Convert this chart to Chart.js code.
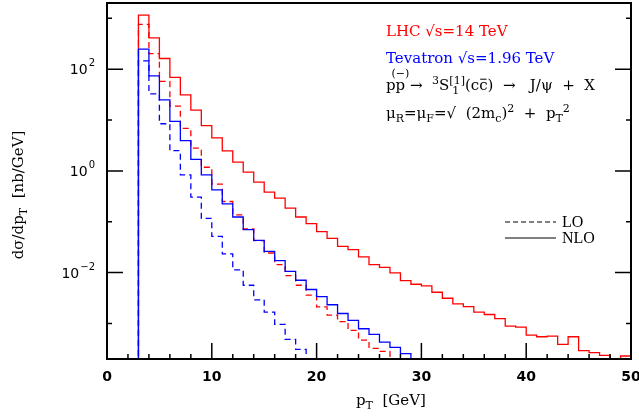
<!DOCTYPE html>
<html>
<head>
<meta charset="utf-8">
<script src="https://cdn.jsdelivr.net/npm/chart.js@4.4.0/dist/chart.umd.min.js"></script>
<style>
  html, body { margin: 0; padding: 0; background: #fff; }
  #wrap { width: 639px; height: 417px; }
</style>
</head>
<body>
<div id="wrap"><canvas id="xsec" width="639" height="417"></canvas></div>
<script>
// histogram bins are 1 GeV wide, first bin starts at pT = 3 GeV
const binStart = 3;

// LHC sqrt(s)=14 TeV
const lhcNLO = [1150, 411, 162, 68.7, 31.2, 15.7, 7.73, 4.44, 2.47, 1.48, 0.944, 0.600, 0.382, 0.292, 0.186,
  0.124, 0.0914, 0.0637, 0.0471, 0.0328, 0.0283, 0.0203, 0.0144, 0.0127, 0.00986, 0.00697, 0.0059, 0.00548,
  0.00411, 0.00313, 0.00243, 0.00215, 0.00167, 0.0015, 0.00124, 0.000885, 0.000846, 0.00059, 0.000548,
  0.000564, 0.000388, 0.000548, 0.000292, 0.000266, 0.000236, 0.0002, 0.000229];
const lhcLO = [762, 203, 57.4, 18.8, 6.87, 2.79, 1.18, 0.548, 0.25, 0.137, 0.0719, 0.0424, 0.0243, 0.0144,
  0.00873, 0.00564, 0.00359, 0.00212, 0.00146, 0.00109, 0.00073, 0.000471, 0.000324, 0.000283];

// Tevatron sqrt(s)=1.96 TeV
const tevNLO = [247, 73.9, 25, 9.44, 3.93, 1.69, 0.836, 0.424, 0.225, 0.124, 0.0697, 0.043, 0.0262, 0.0172,
  0.0106, 0.00707, 0.00465, 0.00338, 0.00233, 0.00157, 0.00115, 0.000787, 0.000608, 0.000431, 0.000338, 0.000255];
const tevLO = [146, 32.8, 8.45, 2.5, 0.836, 0.305, 0.116, 0.0515, 0.0233, 0.0113, 0.00564, 0.00292, 0.00167,
  0.000955, 0.000486, 0.000309];

const xTickLabels = [0, 10, 20, 30, 40, 50];
const yTickLabels = [2, 0, -2];   // exponents of the labelled decades

const yMin = 2e-4, yMax = 2e3;
const serif = '"DejaVu Serif", serif';

// turn bin contents into a step outline that drops to the floor at both ends
function stepPoints(vals) {
    const pts = [{ x: binStart, y: 1e-6 }];
    vals.forEach((v, i) => pts.push({ x: binStart + i, y: v }));
    pts.push({ x: binStart + vals.length, y: 1e-6 });
    return pts;
}

function histo(label, vals, color, dashed) {
    return {
        label: label,
        data: stepPoints(vals),
        borderColor: color,
        borderWidth: 1.3,
        borderDash: dashed ? [6, 4] : [],
        stepped: 'before',
        pointRadius: 0,
        fill: false
    };
}

// small rich text helper: parts = {t, k:'sup'|'sub', stack:offset, over:text, bar:true}
function richText(ctx, x, y, parts, size, color, draw, face) {
    const fam = face || serif;
    let cx = x, lastX = x;
    ctx.fillStyle = color;
    ctx.strokeStyle = color;
    ctx.textAlign = 'left';
    ctx.textBaseline = 'alphabetic';
    parts.forEach(p => {
        const k = p.k || 'n';
        const fs = k === 'n' ? size : Math.round(size * 0.7);
        const dy = k === 'sup' ? -size * 0.42 : (k === 'sub' ? size * 0.28 : 0);
        ctx.font = fs + 'px ' + fam;
        const w = ctx.measureText(p.t).width;
        const sx = p.stack !== undefined ? lastX + p.stack : cx;
        if (draw) {
            ctx.fillText(p.t, sx, y + dy);
            if (p.over) {
                ctx.font = Math.round(size * 0.7) + 'px ' + fam;
                const ow = ctx.measureText(p.over).width;
                ctx.fillText(p.over, sx + w / 2 - ow / 2, y - size * 0.85);
            }
            if (p.bar) {
                ctx.lineWidth = 1;
                ctx.beginPath();
                ctx.moveTo(sx + 1, y - size * 0.72);
                ctx.lineTo(sx + w - 1, y - size * 0.72);
                ctx.stroke();
            }
        }
        if (p.stack === undefined) {
            lastX = cx;
            cx += w;
        }
    });
    return cx - x;
}

const framePlugin = {
    id: 'frame',
    afterDraw(chart) {
        const ctx = chart.ctx;
        const a = chart.chartArea;
        const xs = chart.scales.x, ys = chart.scales.y;
        ctx.save();

        // box
        ctx.strokeStyle = '#000';
        ctx.lineWidth = 2;
        ctx.strokeRect(a.left, a.top, a.right - a.left, a.bottom - a.top);

        // x ticks (bottom only), major every 10, minor every 2
        ctx.lineWidth = 1.5;
        ctx.beginPath();
        for (let v = 0; v <= 50; v += 2) {
            const px = xs.getPixelForValue(v);
            const len = v % 10 === 0 ? 16 : 5;
            ctx.moveTo(px, a.bottom);
            ctx.lineTo(px, a.bottom - len);
        }
        // y ticks on both sides, major on even decades
        for (let e = -3; e <= 3; e++) {
            const py = ys.getPixelForValue(Math.pow(10, e));
            const len = e % 2 === 0 ? 16 : 5;
            ctx.moveTo(a.left, py);
            ctx.lineTo(a.left + len, py);
            ctx.moveTo(a.right, py);
            ctx.lineTo(a.right - len, py);
        }
        ctx.stroke();

        // x tick labels
        ctx.fillStyle = '#000';
        ctx.font = 'bold 14px "DejaVu Sans", sans-serif';
        ctx.textAlign = 'center';
        ctx.textBaseline = 'alphabetic';
        xTickLabels.forEach(v => ctx.fillText(String(v), xs.getPixelForValue(v), 381));

        // y tick labels 10^n
        yTickLabels.forEach(e => {
            const py = ys.getPixelForValue(Math.pow(10, e));
            ctx.font = '10px "DejaVu Sans", sans-serif';
            const sup = e < 0 ? '\u2212' + (-e) : String(e);
            const sw = ctx.measureText(sup).width;
            ctx.textAlign = 'right';
            ctx.fillText(sup, 95, py - 3);
            ctx.font = '14px "DejaVu Sans", sans-serif';
            ctx.fillText('10', 95 - sw - 1, py + 5);
        });

        // axis titles
        const xt = [{ t: 'p' }, { t: 'T', k: 'sub' }, { t: '  [GeV]' }];
        richText(ctx, 356, 405, xt, 15, '#000', true);

        const yt = [{ t: 'd\u03c3/dp' }, { t: 'T', k: 'sub' }, { t: '  [nb/GeV]' }];
        const yw = richText(ctx, 0, 0, yt, 15, '#000', false);
        ctx.save();
        ctx.translate(23, 195);
        ctx.rotate(-Math.PI / 2);
        richText(ctx, -yw / 2, 0, yt, 15, '#000', true);
        ctx.restore();

        // annotations
        richText(ctx, 386, 36, [{ t: 'LHC \u221as=14 TeV' }], 15, '#ff0000', true);
        richText(ctx, 386, 63, [{ t: 'Tevatron \u221as=1.96 TeV' }], 15, '#0000ff', true);
        richText(ctx, 386, 90, [
            { t: 'p' }, { t: 'p', over: '(\u2212)' }, { t: ' \u2192  ' },
            { t: '3', k: 'sup' }, { t: 'S' }, { t: '[1]', k: 'sup' }, { t: '1', k: 'sub', stack: 3 },
            { t: '(c' }, { t: 'c', bar: true }, { t: ')  \u2192   J/\u03c8  +  X' }
        ], 15, '#000', true);
        richText(ctx, 386, 118, [
            { t: '\u03bc' }, { t: 'R', k: 'sub' }, { t: '=\u03bc' }, { t: 'F', k: 'sub' },
            { t: '=\u221a  (2m' }, { t: 'c', k: 'sub' }, { t: ')' }, { t: '2', k: 'sup' },
            { t: '  +  p' }, { t: 'T', k: 'sub' }, { t: '2', k: 'sup' }
        ], 15, '#000', true);

        // line style key
        ctx.strokeStyle = '#000';
        ctx.lineWidth = 1;
        ctx.setLineDash([5, 3]);
        ctx.beginPath();
        ctx.moveTo(505, 222);
        ctx.lineTo(556, 222);
        ctx.stroke();
        ctx.setLineDash([]);
        ctx.beginPath();
        ctx.moveTo(505, 238);
        ctx.lineTo(556, 238);
        ctx.stroke();
        const times = '"Liberation Serif", serif';
        richText(ctx, 562, 227, [{ t: 'LO' }], 16, '#000', true, times);
        richText(ctx, 562, 243, [{ t: 'NLO' }], 16, '#000', true, times);

        ctx.restore();
    }
};

new Chart(document.getElementById('xsec').getContext('2d'), {
    type: 'line',
    data: {
        datasets: [
            histo('Tevatron LO', tevLO, '#0000ff', true),
            histo('Tevatron NLO', tevNLO, '#0000ff', false),
            histo('LHC LO', lhcLO, '#ff0000', true),
            histo('LHC NLO', lhcNLO, '#ff0000', false)
        ]
    },
    options: {
        responsive: false,
        animation: false,
        events: [],
        layout: { padding: { left: 0, top: 3, right: 8, bottom: 0 } },
        plugins: {
            legend: { display: false },
            tooltip: { enabled: false }
        },
        scales: {
            x: {
                type: 'linear',
                min: 0,
                max: 50,
                grid: { display: false },
                border: { display: false },
                ticks: { display: false },
                afterFit: s => { s.height = 58; }
            },
            y: {
                type: 'logarithmic',
                min: yMin,
                max: yMax,
                grid: { display: false },
                border: { display: false },
                ticks: { display: false },
                afterFit: s => { s.width = 107; }
            }
        }
    },
    plugins: [framePlugin]
});
</script>
</body>
</html>
